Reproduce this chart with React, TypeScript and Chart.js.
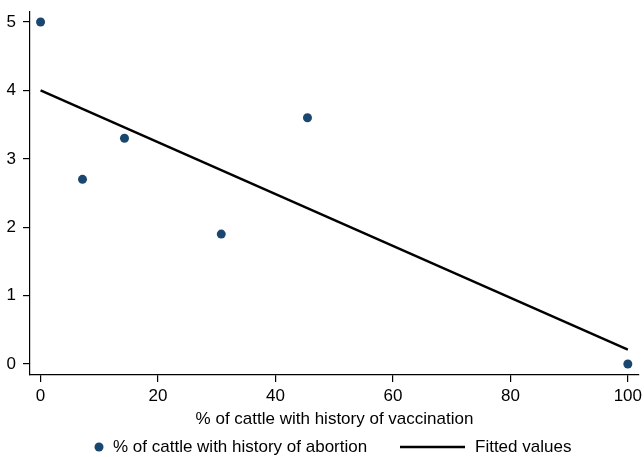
import React, { useEffect, useRef } from "react";
import { Chart, registerables } from "chart.js";

Chart.register(...registerables);

const vaccinationPct = [0, 7.14, 14.29, 30.77, 45.45, 100];
const abortionPct = [5, 2.7, 3.3, 1.9, 3.6, 0];
const fittedX = [0, 100];
const fittedY = [4.0, 0.21];
const xTicks = [0, 20, 40, 60, 80, 100];
const yTicks = [0, 1, 2, 3, 4, 5];
const xTitle = "% of cattle with history of vaccination";
const scatterLabel = "% of cattle with history of abortion";
const lineLabel = "Fitted values";

const NAVY = "#1a476f";
const FONT = "'Liberation Sans', Arial, Helvetica, sans-serif";
const FS = 17;

const legendPlugin = {
  id: "stataLegend",
  afterDraw(chart: any) {
    const ctx = chart.ctx;
    const y = 447;
    ctx.save();
    ctx.fillStyle = NAVY;
    ctx.beginPath();
    ctx.arc(99, y, 4.5, 0, Math.PI * 2);
    ctx.fill();
    ctx.strokeStyle = "#000";
    ctx.lineWidth = 2.4;
    ctx.beginPath();
    ctx.moveTo(400, y);
    ctx.lineTo(465, y);
    ctx.stroke();
    ctx.fillStyle = "#000";
    ctx.font = `${FS}px ${FONT}`;
    ctx.textBaseline = "middle";
    ctx.textAlign = "left";
    ctx.fillText(scatterLabel, 113, y);
    ctx.fillText(lineLabel, 475, y);
    ctx.restore();
  },
};

export default function App() {
  const ref = useRef<HTMLCanvasElement | null>(null);
  useEffect(() => {
    document.body.style.margin = "0";
    const canvas = ref.current!;
    const chart = new Chart(canvas, {
      type: "scatter",
      data: {
        datasets: [
          {
            type: "scatter",
            label: scatterLabel,
            data: vaccinationPct.map((x, i) => ({ x, y: abortionPct[i] })),
            backgroundColor: NAVY,
            borderColor: NAVY,
            pointRadius: 4.5,
            pointBorderWidth: 0,
          },
          {
            type: "line",
            label: lineLabel,
            data: fittedX.map((x, i) => ({ x, y: fittedY[i] })),
            borderColor: "#000",
            borderWidth: 2.4,
            pointRadius: 0,
            fill: false,
          } as any,
        ],
      },
      options: {
        responsive: false,
        animation: false,
        layout: { padding: { left: 0, top: 12, right: 5, bottom: 25 } },
        plugins: { legend: { display: false }, tooltip: { enabled: false } },
        scales: {
          x: {
            type: "linear",
            min: -1.8,
            max: 101.9,
            afterBuildTicks: (s: any) => {
              s.ticks = xTicks.map((v) => ({ value: v }));
            },
            afterFit: (s: any) => {
              s.height = 57;
              s.paddingLeft = 0;
              s.paddingRight = 0;
            },
            grid: {
              drawOnChartArea: false,
              drawTicks: true,
              tickLength: 7,
              tickColor: "#000",
              color: "#000",
              lineWidth: 1.2,
            },
            border: { display: true, color: "#000", width: 1.2 },
            ticks: { color: "#000", font: { family: FONT, size: FS }, padding: 4, maxRotation: 0 },
            title: {
              display: true,
              text: xTitle,
              color: "#000",
              font: { family: FONT, size: FS },
              padding: { top: 0, bottom: 2 },
            },
          },
          y: {
            type: "linear",
            min: -0.16,
            max: 5.146,
            afterBuildTicks: (s: any) => {
              s.ticks = yTicks.map((v) => ({ value: v }));
            },
            afterFit: (s: any) => {
              s.width = 30;
              s.paddingTop = 0;
              s.paddingBottom = 0;
            },
            grid: {
              drawOnChartArea: false,
              drawTicks: true,
              tickLength: 7,
              tickColor: "#000",
              color: "#000",
              lineWidth: 1.2,
            },
            border: { display: true, color: "#000", width: 1.2 },
            ticks: { color: "#000", font: { family: FONT, size: FS }, padding: 7 },
          },
        },
      },
      plugins: [legendPlugin],
    } as any);
    return () => chart.destroy();
  }, []);
  return <canvas ref={ref} width={644} height={457} style={{ display: "block" }} />;
}
